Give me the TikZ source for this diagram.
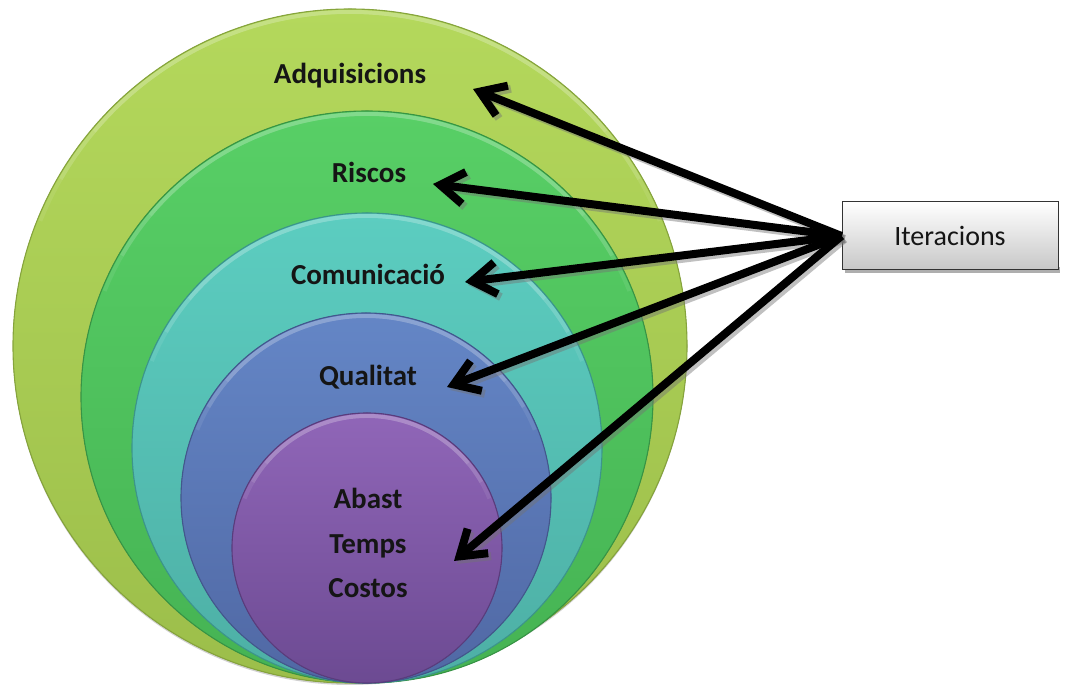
\documentclass[tikz,border=0pt]{standalone}
\usepackage{fontspec}
\setmainfont{Carlito}
\usetikzlibrary{arrows.meta}

\definecolor{lvAtop}{HTML}{B4D85C}\definecolor{lvAbot}{HTML}{9CBE4A}\definecolor{lvAedge}{HTML}{86A43C}
\definecolor{lvBtop}{HTML}{58CF66}\definecolor{lvBbot}{HTML}{45B353}\definecolor{lvBedge}{HTML}{379445}
\definecolor{lvCtop}{HTML}{5CCDC0}\definecolor{lvCbot}{HTML}{4DAFA5}\definecolor{lvCedge}{HTML}{3C958C}
\definecolor{lvDtop}{HTML}{6486C6}\definecolor{lvDbot}{HTML}{5068A4}\definecolor{lvDedge}{HTML}{43578C}
\definecolor{lvEtop}{HTML}{9066B8}\definecolor{lvEbot}{HTML}{6C4A92}\definecolor{lvEedge}{HTML}{5A3C7C}
\definecolor{inktext}{HTML}{151515}

% one layer of the nested disks: centre x, centre y, radius, colour prefix
\newcommand\layerdisk[4]{%
  \fill[top color=#4top,bottom color=#4bot] (#1,#2) circle[radius=#3pt];
  \begin{scope}
    \clip (#1,#2) circle[radius=#3pt];
    % soft light rim along the upper edge
    \foreach \a/\b/\o in {40/140/0.10,30/150/0.10,22/158/0.08}{
      \draw[white,opacity=\o,line width=4pt]
        ([shift={(\a:#3pt-3pt)}]#1,#2) arc[start angle=\a,end angle=\b,radius=#3pt-3pt];
    }
  \end{scope}
  \draw[#4edge,line width=1.1pt] (#1,#2) circle[radius=#3pt];
}

\tikzset{
  layerlabel/.style={font=\fontsize{29}{32}\selectfont\bfseries,text=inktext,anchor=base,inner sep=0pt},
  pointer/.style={line width=8pt,-{Straight Barb[length=24pt,width=32pt,sharp]}},
  pointershadow/.style={pointer,draw=black!55,opacity=0.45},
  iterbox/.style={draw=black!80,line width=1pt,top color=white,bottom color=black!22,
    minimum width=216pt,minimum height=68pt,inner sep=0pt,
    font=\fontsize{28}{31}\selectfont,text=inktext}
}

\begin{document}
\begin{tikzpicture}[x=1pt,y=1pt]
\useasboundingbox (0,0) rectangle (1065,687);

% soft shadow under the outer disk
\fill[black,opacity=0.18] (350,339) circle[radius=337pt];

\layerdisk{350}{341}{337}{lvA}
\layerdisk{367}{290}{286}{lvB}
\layerdisk{367}{239}{235}{lvC}
\layerdisk{366}{189}{185}{lvD}
\layerdisk{367}{139}{135}{lvE}

\node[layerlabel] (adq) at (350,603) {Adquisicions};
\node[layerlabel] (ris) at (369,504) {Riscos};
\node[layerlabel] (com) at (368,402) {Comunicació};
\node[layerlabel] (qua) at (368,301) {Qualitat};
\node[layerlabel] (aba) at (368,178) {Abast};
\node[layerlabel] (tem) at (368,133) {Temps};
\node[layerlabel] (cos) at (368,89)  {Costos};

% box and its shadow
\fill[black!45,opacity=0.7] (845,414) rectangle (1060,420);
\node[iterbox] (iter) at (950,451) {Iteracions};

% arrow end points inside the rings
\coordinate (tA) at (473,598);
\coordinate (tB) at (433,503);
\coordinate (tC) at (465,405);
\coordinate (tD) at (447,300);
\coordinate (tE) at (454,126);
\coordinate (src) at (iter.west);

\foreach \t in {tA,tB,tC,tD,tE}{
  \draw[pointershadow] ([shift={(3pt,-3pt)}]src) -- ([shift={(3pt,-3pt)}]\t);
}
\foreach \t in {tA,tB,tC,tD,tE}{
  \draw[pointer] (src) -- (\t);
}
\end{tikzpicture}
\end{document}
